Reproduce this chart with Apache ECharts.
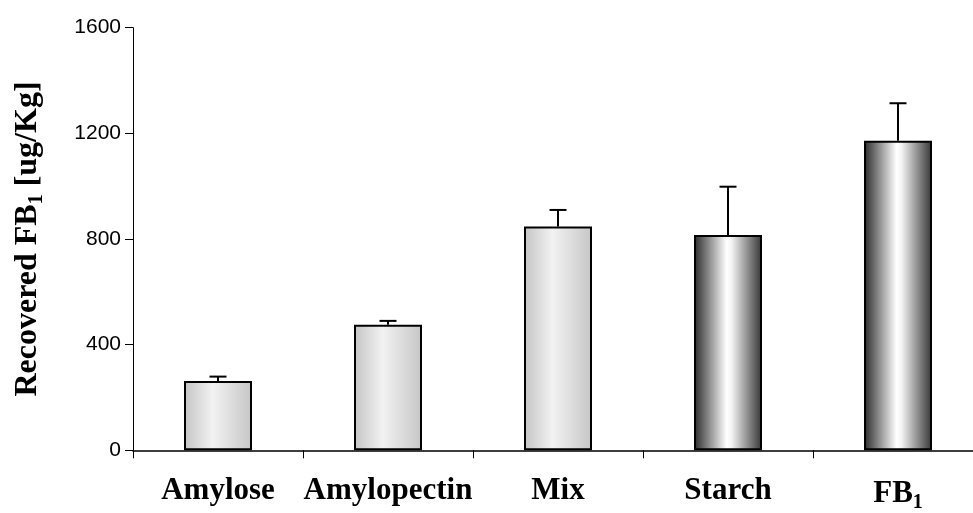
<!DOCTYPE html>
<html>
<head>
<meta charset="utf-8">
<script src="https://cdn.jsdelivr.net/npm/echarts@6/dist/echarts.min.js"></script>
<style>html,body{margin:0;padding:0;background:#fff;}#c{width:973px;height:513px;}</style>
</head>
<body>
<div id="c"></div>
<script>
var categories = ['Amylose', 'Amylopectin', 'Mix', 'Starch', 'FB1'];
var values = [262, 475, 847, 815, 1172];
var errors = [17, 15, 63, 183, 142];
var yTicks = [0, 400, 800, 1200, 1600];

var chart = echarts.init(document.getElementById('c'));

function lightGrad() {
  return new echarts.graphic.LinearGradient(0, 0, 1, 0, [
    {offset: 0, color: '#c4c4c4'},
    {offset: 0.42, color: '#f2f2f2'},
    {offset: 1, color: '#c6c6c6'}
  ]);
}
function darkGrad() {
  return new echarts.graphic.LinearGradient(0, 0, 1, 0, [
    {offset: 0, color: '#2a2a2a'},
    {offset: 0.48, color: '#ffffff'},
    {offset: 0.55, color: '#f4f4f4'},
    {offset: 1, color: '#353535'}
  ]);
}

var barData = values.map(function (v, i) {
  return {
    value: v,
    itemStyle: {
      color: i < 3 ? lightGrad() : darkGrad(),
      borderColor: '#000',
      borderWidth: 2
    }
  };
});

var errData = values.map(function (v, i) { return [i, v, v + errors[i]]; });

chart.setOption({
  animation: false,
  backgroundColor: '#fff',
  grid: {left: 133, top: 27.7, bottom: 62.7, width: 850, containLabel: false, outerBoundsMode: 'none'},
  xAxis: {
    type: 'category',
    data: categories,
    axisLine: {lineStyle: {color: '#000', width: 1.5}},
    axisTick: {show: true, length: 8, lineStyle: {color: '#000'}},
    axisLabel: {
      interval: 0,
      margin: 25,
      fontFamily: 'Liberation Serif',
      fontWeight: 'bold',
      fontSize: 31,
      color: '#000',
      formatter: function (v) {
        if (v === 'FB1') return '{b|FB}{s|1}';
        return '{b|' + v + '}';
      },
      rich: {
        b: {fontFamily: 'Liberation Serif', fontWeight: 'bold', fontSize: 31, color: '#000'},
        s: {fontFamily: 'Liberation Serif', fontWeight: 'bold', fontSize: 20, color: '#000', padding: [18, 0, 0, 0]}
      }
    }
  },
  yAxis: {
    type: 'value',
    min: yTicks[0],
    max: yTicks[yTicks.length - 1],
    interval: 400,
    splitLine: {show: false},
    axisLine: {show: true, lineStyle: {color: '#000', width: 1}},
    axisTick: {show: true, length: 8, lineStyle: {color: '#000'}},
    axisLabel: {margin: 12, fontFamily: 'Liberation Sans', fontSize: 21, color: '#000',
      formatter: function (v) { return String(v); }},
    name: '{b|Recovered FB}{s|1}{b| [ug/Kg]}',
    nameLocation: 'middle',
    nameGap: 86,
    nameRotate: 90,
    nameTextStyle: {
      rich: {
        b: {fontFamily: 'Liberation Serif', fontWeight: 'bold', fontSize: 32, color: '#000'},
        s: {fontFamily: 'Liberation Serif', fontWeight: 'bold', fontSize: 20, color: '#000', padding: [18, 0, 0, 0]}
      }
    }
  },
  series: [
    {
      type: 'bar',
      data: barData,
      barWidth: 68,
      z: 2
    },
    {
      type: 'custom',
      data: errData,
      z: 3,
      renderItem: function (params, api) {
        var x = api.value(0);
        var p0 = api.coord([x, api.value(1)]);
        var p1 = api.coord([x, api.value(2)]);
        var hw = 8.5;
        return {
          type: 'group',
          children: [
            {type: 'line', shape: {x1: p0[0], y1: p0[1], x2: p1[0], y2: p1[1]}, style: {stroke: '#000', lineWidth: 2}},
            {type: 'line', shape: {x1: p1[0] - hw, y1: p1[1], x2: p1[0] + hw, y2: p1[1]}, style: {stroke: '#000', lineWidth: 2}}
          ]
        };
      }
    }
  ]
});
</script>
</body>
</html>
